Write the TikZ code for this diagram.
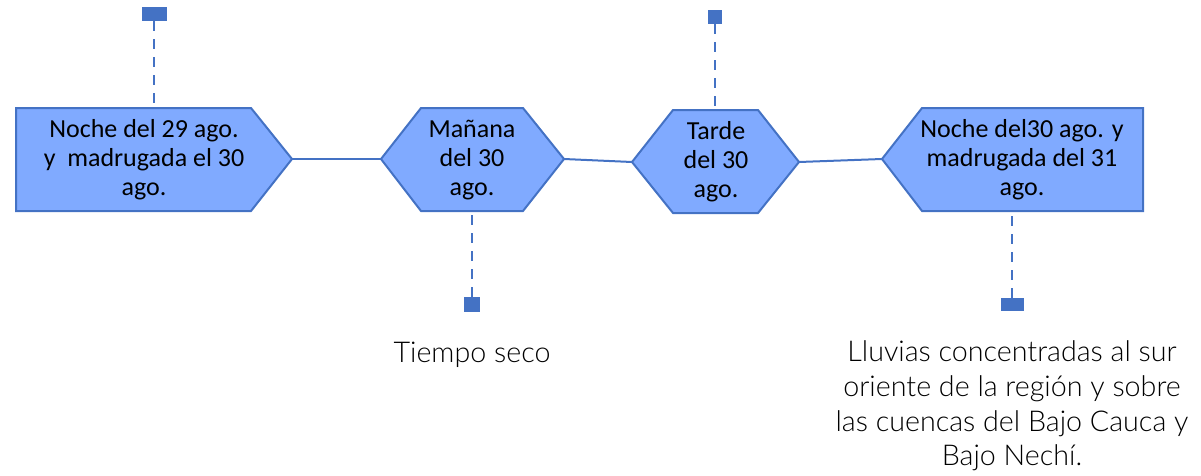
\documentclass[tikz,border=0pt]{standalone}
\usepackage{fontspec}
\setmainfont{Carlito}
\newfontfamily\notefont{Lato Light}
\usetikzlibrary{positioning}
\definecolor{boxfill}{RGB}{128,170,255}
\definecolor{boxline}{RGB}{68,114,196}

\begin{document}
\begin{tikzpicture}[
    x=0.75pt, y=-0.75pt,
    line join=miter
]
\tikzset{
    stage/.style = {draw=boxline, line width=1.5pt, fill=boxfill},
    stagetext/.style = {align=center, inner sep=0pt, font=\fontsize{19.5}{21.75}\selectfont},
    marker/.style = {rectangle, fill=boxline, inner sep=0pt},
    leader/.style = {boxline, line width=2pt, dash pattern=on 7.5pt off 6pt},
    link/.style = {boxline, line width=1.5pt},
    note/.style = {align=center, inner sep=0pt, font=\notefont\fontsize{21.5}{25.9}\selectfont}
}
\useasboundingbox (0,0) rectangle (1201,475);
% markers and dashed leaders
\node[marker, minimum width=18.75pt, minimum height=10.5pt] at (154,14) (m1) {};
\node[marker, minimum width=12pt, minimum height=11.25pt] at (472,304.5) (m2) {};
\node[marker, minimum width=10.5pt, minimum height=10.5pt] at (715,17) (m3) {};
\node[marker, minimum width=17.25pt, minimum height=9.75pt] at (1012,304.5) (m4) {};
\coordinate (s1top) at (154,108);
\coordinate (s2bot) at (472,211);
\coordinate (s3top) at (715,110);
\coordinate (s4bot) at (1012,211);
\draw[leader] (m1) -- (s1top);
\draw[leader] (m2) -- (s2bot);
\draw[leader] (m3) -- (s3top);
\draw[leader] (m4) -- (s4bot);
% stages
\draw[stage] (16,108) -- (251,108) -- (292,159) coordinate (s1e) -- (251,211) -- (16,211) -- cycle;
\draw[stage] (381,159) coordinate (s2w) -- (421,108) -- (523,108) -- (564,159) coordinate (s2e) -- (523,211) -- (421,211) -- cycle;
\draw[stage] (632,162) coordinate (s3w) -- (673,110) -- (758,110) -- (799,162) coordinate (s3e) -- (758,213) -- (673,213) -- cycle;
\draw[stage] (882,159) coordinate (s4w) -- (922,108) -- (1143,108) -- (1143,211) -- (922,211) -- cycle;
\node[stagetext] at (144,160) (n1) {Noche del 29 ago.\\y~ madrugada el 30\\ago.};
\node[stagetext] at (472,160) (n2) {Mañana\\del 30\\ago.};
\node[stagetext] at (716,162) (n3) {Tarde\\del 30\\ago.};
\node[stagetext] at (1022,160) (n4) {Noche del30 ago. y\\madrugada del 31\\ago.};
% links
\draw[link] (s1e) -- (s2w);
\draw[link] (s2e) -- (s3w);
\draw[link] (s3e) -- (s4w);
% notes
\node[note, anchor=base] at (472,362) (dry) {Tiempo seco};
\node[note] at (1012,406) (rain) {Lluvias concentradas al sur\\oriente de la región y sobre\\las cuencas del Bajo Cauca y\\Bajo Nechí.};
\end{tikzpicture}
\end{document}
